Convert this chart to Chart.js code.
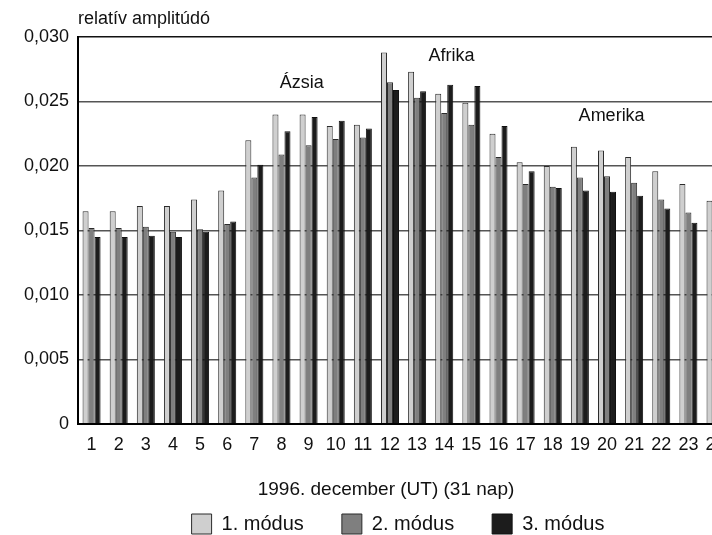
<!DOCTYPE html>
<html>
<head>
<meta charset="utf-8">
<script src="https://cdn.jsdelivr.net/npm/chart.js@4"></script>
<style>
  html, body { margin: 0; padding: 0; background: #fff; overflow: hidden; }
</style>
</head>
<body>
<canvas id="chart" width="930" height="535"></canvas>
<script>
// days of december 1996, only 1..24 are visible in the picture
let days = ['1','2','3','4','5','6','7','8','9','10','11','12','13','14','15','16',
  '17','18','19','20','21','22','23','24','25','26','27','28','29','30','31'];

let mode1 = [0.0165, 0.0165, 0.0169, 0.0169, 0.0174, 0.0181, 0.0220, 0.0240, 0.0240, 0.0231,
  0.0232, 0.0288, 0.0273, 0.0256, 0.0249, 0.0225, 0.0203, 0.0200, 0.0215, 0.0212,
  0.0207, 0.0196, 0.0186, 0.0173, null, null, null, null, null, null, null];
let mode2 = [0.0152, 0.0152, 0.0153, 0.0149, 0.0151, 0.0155, 0.0191, 0.0209, 0.0216, 0.0221,
  0.0222, 0.0265, 0.0253, 0.0241, 0.0232, 0.0207, 0.0186, 0.0184, 0.0191, 0.0192,
  0.0187, 0.0174, 0.0164, null, null, null, null, null, null, null, null];
let mode3 = [0.0145, 0.0145, 0.0146, 0.0145, 0.0149, 0.0157, 0.0201, 0.0227, 0.0238, 0.0235,
  0.0229, 0.0259, 0.0258, 0.0263, 0.0262, 0.0231, 0.0196, 0.0183, 0.0181, 0.0180,
  0.0177, 0.0167, 0.0156, null, null, null, null, null, null, null, null];

let yTicks = [0, 0.005, 0.010, 0.015, 0.020, 0.025, 0.030];

// continent labels, anchored in data units (day, amplitude)
let regionNames = ['Ázsia', 'Afrika', 'Amerika'];
let regionDay = [8.75, 14.27, 20.17];
let regionLevel = [0.02645, 0.02856, 0.0239];

let yTitle = 'relatív amplitúdó';
let xTitle = '1996. december (UT) (31 nap)';

Chart.defaults.font.family = '"Liberation Sans", Arial, sans-serif';
Chart.defaults.color = '#111';

let regionText = {
  id: 'regionText',
  afterDatasetsDraw(chart) {
    let c = chart.ctx, x = chart.scales.x, y = chart.scales.y;
    c.save();
    c.font = '18px "Liberation Sans", Arial, sans-serif';
    c.fillStyle = '#111';
    c.textAlign = 'center';
    c.textBaseline = 'middle';
    regionNames.forEach(function(name, i) {
      c.fillText(name, x.getPixelForValue(regionDay[i] - 1), y.getPixelForValue(regionLevel[i]));
    });
    c.restore();
  }
};

// the picture is cut on the right, titles and legend sit left of the plot centre
let placeBoxes = {
  id: 'placeBoxes',
  afterLayout(chart) {
    chart.boxes.forEach(function(b) {
      let t = b.options && b.options.text;
      if (t === yTitle) { b.left = chart.chartArea.left; }
      if (t === xTitle) { b.left = 386 - 300; b.right = 386 + 300; }
    });
    let lg = chart.legend;
    lg.left = 398 - 450;
    lg.right = 398 + 450;
    lg.top = 514 - lg.options.labels.padding;
    lg.bottom = 535;
  }
};

new Chart(document.getElementById('chart'), {
  type: 'bar',
  data: {
    labels: days,
    datasets: [
      { label: '1. módus', data: mode1, backgroundColor: '#cfcfcf', borderColor: '#2b2b2b', borderWidth: 1 },
      { label: '2. módus', data: mode2, backgroundColor: '#7f7f7f', borderColor: '#2b2b2b', borderWidth: 1 },
      { label: '3. módus', data: mode3, backgroundColor: '#1c1c1c', borderColor: '#111', borderWidth: 1 }
    ]
  },
  options: {
    responsive: false,
    animation: false,
    layout: { padding: { bottom: 4.6, right: 11 } },
    datasets: { bar: { categoryPercentage: 0.664, barPercentage: 1 } },
    scales: {
      x: {
        grid: { display: false, drawTicks: false },
        border: { color: '#000', width: 2, z: 1 },
        ticks: { autoSkip: false, maxRotation: 0, padding: 10, font: { size: 18 } }
      },
      y: {
        min: 0,
        max: 0.03,
        afterFit: function(s) { s.width = 78; },
        afterBuildTicks: function(s) { s.ticks = yTicks.map(v => ({ value: v })); },
        ticks: {
          padding: 9,
          font: { size: 18 },
          callback: v => v === 0 ? '0' : v.toFixed(3).replace('.', ',')
        },
        grid: {
          drawTicks: false,
          lineWidth: 1.5,
          color: c => Math.abs(c.tick.value - 0.03) < 1e-9 ? '#111' : '#555'
        },
        border: { color: '#000', width: 2, z: 1 }
      }
    },
    plugins: {
      legend: {
        position: 'bottom',
        maxHeight: 25,
        labels: { boxWidth: 20, boxHeight: 20, padding: 38, font: { size: 20 } }
      },
      title: {
        display: true, text: xTitle, position: 'bottom', weight: 500,
        font: { size: 19, weight: 'normal' }, padding: { top: 13, bottom: 4 }
      },
      subtitle: {
        display: true, text: yTitle, position: 'top', align: 'start',
        font: { size: 18 }, padding: { top: 8, bottom: 7.4 }
      },
      tooltip: { enabled: false }
    }
  },
  plugins: [placeBoxes, regionText]
});
</script>
</body>
</html>
